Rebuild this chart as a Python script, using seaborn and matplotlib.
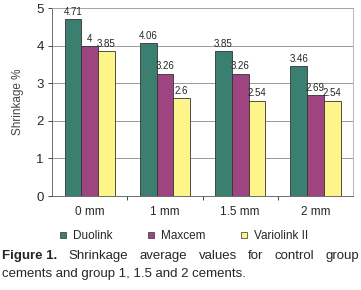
import pandas as pd
import numpy as np
import seaborn as sns
import matplotlib.pyplot as plt

groups = ['0 mm', '1 mm', '1.5 mm', '2 mm']
cements = ['Duolink', 'Maxcem', 'Variolink II']
duolink = [4.71, 4.06, 3.85, 3.46]
maxcem = [4.0, 3.26, 3.26, 2.69]
variolink = [3.85, 2.6, 2.54, 2.54]
value_labels = [['4.71', '4.06', '3.85', '3.46'],
                ['4', '3.26', '3.26', '2.69'],
                ['3.85', '2.6', '2.54', '2.54']]
caption_bold = 'Figure 1.'
caption_line1 = 'Shrinkage average values for control group'
caption_line2 = 'cements and group 1, 1.5 and 2 cements.'

df = pd.DataFrame({
    'Group': groups * 3,
    'Cement': np.repeat(cements, len(groups)),
    'Shrinkage': duolink + maxcem + variolink,
})

sns.set_style('white')
plt.rcParams['font.family'] = ['Liberation Sans', 'DejaVu Sans']
colors = ['#3b7f70', '#9e4480', '#fef58a']

fig = plt.figure(figsize=(3.61, 2.90), dpi=100)
ax = fig.add_axes([0.144, 0.324, 0.834, 0.648])
sns.barplot(data=df, x='Group', y='Shrinkage', hue='Cement', palette=colors,
            width=0.667, edgecolor='#333333', linewidth=0.6, saturation=1,
            ax=ax, legend=False, zorder=3)

for cont, labs in zip(ax.containers, value_labels):
    ax.bar_label(cont, labels=labs, padding=1.5, fontsize=7)

ax.set_ylim(0, 5)
ax.set_xlim(-0.5, 3.5)
ax.set_yticks(range(6))
ax.yaxis.grid(True, color='#8a8a8a', linewidth=0.6, zorder=0)
ax.set_axisbelow(True)
for s in ['top', 'right']:
    ax.spines[s].set_color('#aaaaaa')
    ax.spines[s].set_linewidth(0.6)
for s in ['left', 'bottom']:
    ax.spines[s].set_color('#555555')
    ax.spines[s].set_linewidth(0.6)
ax.tick_params(axis='y', labelsize=9.5, length=3, width=0.6, direction='out', left=True, pad=3)
ax.tick_params(axis='x', labelsize=8.5, length=0, pad=7)
ax.set_xticks([0.5, 1.5, 2.5], minor=True)
ax.tick_params(axis='x', which='minor', length=3, width=0.6, bottom=True)
ax.set_xlabel('')
ax.set_ylabel('Shrinkage %', fontsize=8.5, color='#444444', labelpad=9)

handles = [plt.Rectangle((0, 0), 1, 1, facecolor=c, edgecolor='#333333', linewidth=0.5) for c in colors]
fig.legend(handles, cements, loc='center', bbox_to_anchor=(0.51, 0.186), ncol=3,
           frameon=False, fontsize=8.5, handlelength=0.5, handleheight=0.5,
           handletextpad=0.6, columnspacing=3.0)

# caption: first line justified across the figure width
fs = 9.5
x0, x1 = 0.006, 0.995
y1, y2 = 0.107, 0.045
fig.canvas.draw()
renderer = fig.canvas.get_renderer()
words = [(caption_bold, 'bold')] + [(w, 'normal') for w in caption_line1.split()]
texts = [fig.text(0, y1, w, fontsize=fs, fontweight=wt, va='baseline') for w, wt in words]
widths = [t.get_window_extent(renderer).width / fig.bbox.width for t in texts]
gap = (x1 - x0 - sum(widths)) / (len(texts) - 1)
x = x0
for t, w in zip(texts, widths):
    t.set_x(x)
    x += w + gap
fig.text(x0, y2, caption_line2, fontsize=fs, va='baseline')

fig.savefig('out.png', dpi=100)
